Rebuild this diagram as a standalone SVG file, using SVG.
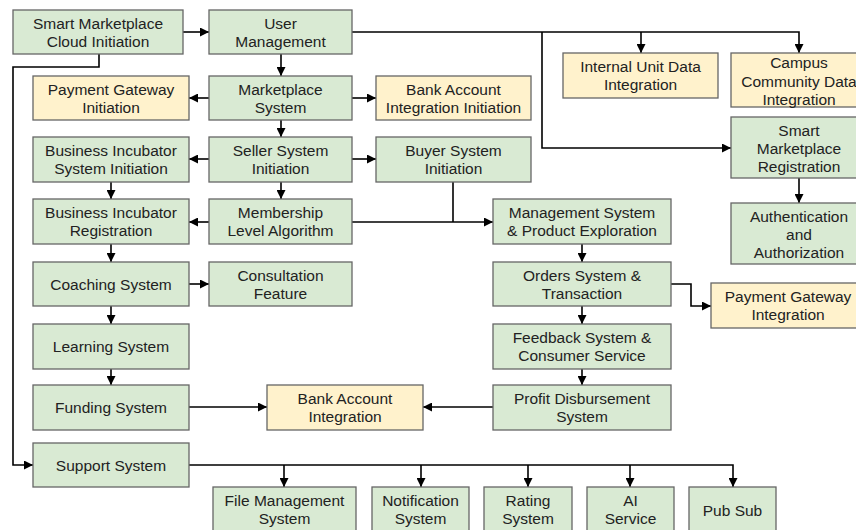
<svg xmlns="http://www.w3.org/2000/svg" width="856" height="530" viewBox="0 0 856 530">
  <style>
    .g rect { fill: #d9ead3; stroke: #666; stroke-width: 1.3; }
    .y rect { fill: #fff2cc; stroke: #666; stroke-width: 1.3; }
    text { font-family: "Liberation Sans", Arial, sans-serif; font-size: 15.5px; fill: #222; text-anchor: middle; }
    #connectors path { fill: none; stroke: #000; stroke-width: 1.6; }
    #connectors .a { marker-end: url(#arrow); }
  </style>
  <defs>
    <marker id="arrow" markerUnits="userSpaceOnUse" markerWidth="9" markerHeight="9" refX="9" refY="4.5" orient="auto">
      <path d="M0,0 L9,4.5 L0,9 z" fill="#000"/>
    </marker>
  </defs>
  <rect width="856" height="530" fill="#fff"/>

  <g id="connectors">
    <path class="a" d="M183,32 H209"/>
    <path class="a" d="M281,54 V76"/>
    <path class="a" d="M209,98 H189"/>
    <path class="a" d="M352,98 H376"/>
    <path class="a" d="M352,32 H799 V53"/>
    <path class="a" d="M641,32 V53"/>
    <path class="a" d="M542,32 V148 H731"/>
    <path class="a" d="M799,178 V203"/>
    <path class="a" d="M281,120 V137"/>
    <path class="a" d="M209,159 H189"/>
    <path class="a" d="M352,159 H376"/>
    <path class="a" d="M111,182 V199"/>
    <path class="a" d="M281,182 V199"/>
    <path class="a" d="M209,222 H189"/>
    <path class="a" d="M352,222 H493"/>
    <path d="M453,182 V222"/>
    <path class="a" d="M582,244 V262"/>
    <path class="a" d="M111,244 V262"/>
    <path class="a" d="M189,284 H209"/>
    <path class="a" d="M111,306 V324"/>
    <path class="a" d="M111,369 V385"/>
    <path class="a" d="M189,407 H267"/>
    <path class="a" d="M671,284 H691 V306 H711"/>
    <path class="a" d="M582,306 V324"/>
    <path class="a" d="M582,369 V385"/>
    <path class="a" d="M493,407 H423"/>
    <path class="a" d="M99,54 V67 H13 V465 H33"/>
    <path class="a" d="M189,465 H733 V487"/>
    <path class="a" d="M284,465 V487"/>
    <path class="a" d="M421,465 V487"/>
    <path class="a" d="M528,465 V487"/>
    <path class="a" d="M630,465 V487"/>
  </g>

  <g id="cloud-init" class="g"><rect x="13" y="10" width="170" height="44"/><text x="98" y="29">Smart Marketplace</text><text x="98" y="47">Cloud Initiation</text></g>
  <g id="user-mgmt" class="g"><rect x="209" y="10" width="143" height="44"/><text x="280.5" y="29">User</text><text x="280.5" y="47">Management</text></g>
  <g id="pg-init" class="y"><rect x="33" y="76" width="156" height="44"/><text x="111" y="95">Payment Gateway</text><text x="111" y="113">Initiation</text></g>
  <g id="marketplace" class="g"><rect x="209" y="76" width="143" height="44"/><text x="280.5" y="95">Marketplace</text><text x="280.5" y="113">System</text></g>
  <g id="bank-init" class="y"><rect x="376" y="76" width="155" height="44"/><text x="453.5" y="95">Bank Account</text><text x="453.5" y="113">Integration Initiation</text></g>
  <g id="internal-unit" class="y"><rect x="563" y="53" width="155" height="45"/><text x="640.5" y="72">Internal Unit Data</text><text x="640.5" y="90">Integration</text></g>
  <g id="campus" class="y"><rect x="731" y="53" width="136" height="54"/><text x="799" y="68">Campus</text><text x="799" y="87">Community Data</text><text x="799" y="105">Integration</text></g>
  <g id="sm-registration" class="g"><rect x="731" y="117" width="136" height="61"/><text x="799" y="136">Smart</text><text x="799" y="154">Marketplace</text><text x="799" y="172">Registration</text></g>
  <g id="auth" class="g"><rect x="731" y="203" width="136" height="61"/><text x="799" y="222">Authentication</text><text x="799" y="240">and</text><text x="799" y="258">Authorization</text></g>
  <g id="bi-init" class="g"><rect x="33" y="137" width="156" height="45"/><text x="111" y="156">Business Incubator</text><text x="111" y="174">System Initiation</text></g>
  <g id="seller" class="g"><rect x="209" y="137" width="143" height="45"/><text x="280.5" y="156">Seller System</text><text x="280.5" y="174">Initiation</text></g>
  <g id="buyer" class="g"><rect x="376" y="137" width="155" height="45"/><text x="453.5" y="156">Buyer System</text><text x="453.5" y="174">Initiation</text></g>
  <g id="bi-registration" class="g"><rect x="33" y="199" width="156" height="45"/><text x="111" y="218">Business Incubator</text><text x="111" y="236">Registration</text></g>
  <g id="membership" class="g"><rect x="209" y="199" width="143" height="45"/><text x="280.5" y="218">Membership</text><text x="280.5" y="236">Level Algorithm</text></g>
  <g id="mgmt-product" class="g"><rect x="493" y="199" width="178" height="45"/><text x="582" y="218">Management System</text><text x="582" y="236">&amp; Product Exploration</text></g>
  <g id="coaching" class="g"><rect x="33" y="262" width="156" height="44"/><text x="111" y="289.5">Coaching System</text></g>
  <g id="consultation" class="g"><rect x="209" y="262" width="143" height="44"/><text x="280.5" y="281">Consultation</text><text x="280.5" y="299">Feature</text></g>
  <g id="orders" class="g"><rect x="493" y="262" width="178" height="44"/><text x="582" y="281">Orders System &amp;</text><text x="582" y="299">Transaction</text></g>
  <g id="pg-integration" class="y"><rect x="711" y="283" width="154" height="45"/><text x="788" y="302">Payment Gateway</text><text x="788" y="320">Integration</text></g>
  <g id="learning" class="g"><rect x="33" y="324" width="156" height="45"/><text x="111" y="352">Learning System</text></g>
  <g id="feedback" class="g"><rect x="493" y="324" width="178" height="45"/><text x="582" y="343">Feedback System &amp;</text><text x="582" y="361">Consumer Service</text></g>
  <g id="funding" class="g"><rect x="33" y="385" width="156" height="45"/><text x="111" y="413">Funding System</text></g>
  <g id="bank-integration" class="y"><rect x="267" y="385" width="156" height="45"/><text x="345" y="404">Bank Account</text><text x="345" y="422">Integration</text></g>
  <g id="profit" class="g"><rect x="493" y="385" width="178" height="45"/><text x="582" y="404">Profit Disbursement</text><text x="582" y="422">System</text></g>
  <g id="support" class="g"><rect x="33" y="443" width="156" height="44"/><text x="111" y="470.5">Support System</text></g>
  <g id="file-mgmt" class="g"><rect x="213" y="487" width="143" height="48"/><text x="284.5" y="506">File Management</text><text x="284.5" y="524">System</text></g>
  <g id="notification" class="g"><rect x="372" y="487" width="97" height="48"/><text x="420.5" y="506">Notification</text><text x="420.5" y="524">System</text></g>
  <g id="rating" class="g"><rect x="484" y="487" width="88" height="48"/><text x="528" y="506">Rating</text><text x="528" y="524">System</text></g>
  <g id="ai-service" class="g"><rect x="587" y="487" width="87" height="48"/><text x="630.5" y="506">AI</text><text x="630.5" y="524">Service</text></g>
  <g id="pub-sub" class="g"><rect x="689" y="487" width="87" height="48"/><text x="732.5" y="515.5">Pub Sub</text></g>
</svg>
